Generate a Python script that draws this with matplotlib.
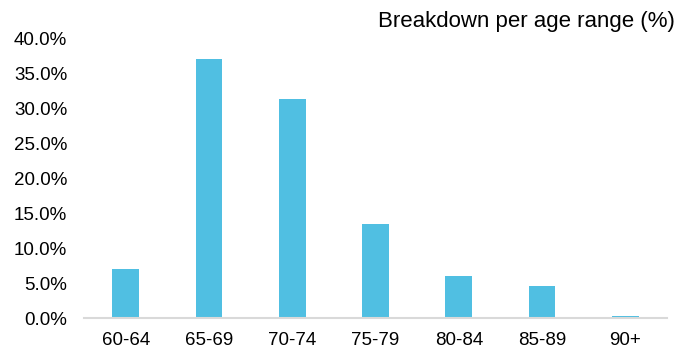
import matplotlib.pyplot as plt
import numpy as np
from matplotlib.ticker import FuncFormatter

plt.rcParams['font.family'] = ['Liberation Sans', 'DejaVu Sans']

age_ranges = ["60-64", "65-69", "70-74", "75-79", "80-84", "85-89", "90+"]
share_pct = [7.0, 37.1, 31.4, 13.5, 6.0, 4.6, 0.3]

x = np.arange(len(age_ranges))

fig = plt.figure(figsize=(6.91, 3.5), dpi=100)
ax = fig.add_axes([0.1216, 0.0914, 0.8437, 0.7972])

ax.bar(x, share_pct, width=0.32, color='#50BFE2')

ax.set_xlim(-0.5, len(age_ranges) - 0.5)
ax.set_ylim(0, 40)
ax.set_yticks(np.arange(0, 40.1, 5))
ax.yaxis.set_major_formatter(FuncFormatter(lambda v, _: f"{v:.1f}%"))
ax.set_xticks(x)
ax.set_xticklabels(age_ranges)

for side in ['top', 'right', 'left']:
    ax.spines[side].set_visible(False)
ax.spines['bottom'].set_color('#D9D9D9')
ax.spines['bottom'].set_linewidth(1.5)
ax.tick_params(axis='both', length=0, labelsize=13.5, colors='#000000')
ax.tick_params(axis='y', pad=12)
ax.tick_params(axis='x', pad=10)

fig.text(0.977, 0.91, "Breakdown per age range (%)", ha='right', va='bottom', fontsize=16)

fig.savefig("out.png", dpi=100)
